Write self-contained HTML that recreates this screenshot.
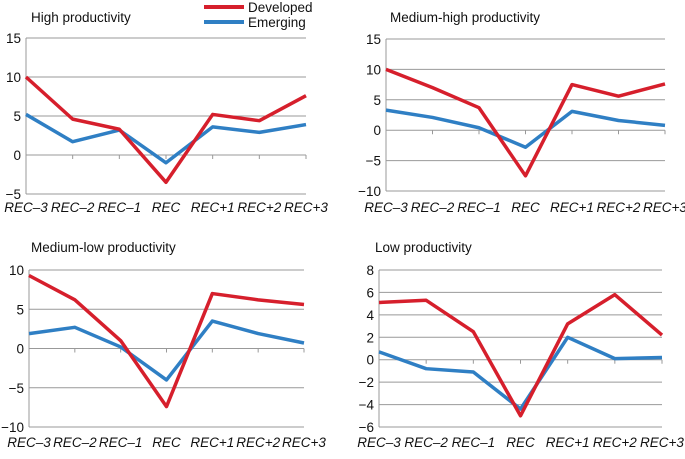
<!DOCTYPE html>
<html><head><meta charset="utf-8"><style>
body{margin:0;background:#fff;width:685px;height:454px;overflow:hidden}
svg{font-family:"Liberation Sans",sans-serif}
</style></head><body>
<svg id="c" width="685" height="454"></svg>
<script>
const categories=["REC\u20133","REC\u20132","REC\u20131","REC","REC+1","REC+2","REC+3"];
const titles=["High productivity","Medium-high productivity","Medium-low productivity","Low productivity"];
const devHigh=[10,4.6,3.3,-3.5,5.2,4.4,7.6];
const emHigh=[5.2,1.7,3.2,-1.0,3.6,2.9,3.9];
const devMedHigh=[10,7,3.7,-7.5,7.5,5.6,7.6];
const emMedHigh=[3.3,2.1,0.4,-2.8,3.1,1.6,0.8];
const devMedLow=[9.3,6.2,1.0,-7.4,7.0,6.2,5.6];
const emMedLow=[1.9,2.7,0.2,-4.0,3.5,1.9,0.7];
const devLow=[5.1,5.3,2.5,-5.0,3.2,5.8,2.2];
const emLow=[0.7,-0.8,-1.1,-4.4,2.0,0.1,0.2];
const ticksHigh=[-5,0,5,10,15];
const ticksMedHigh=[-10,-5,0,5,10,15];
const ticksMedLow=[-10,-5,0,5,10];
const ticksLow=[-6,-4,-2,0,2,4,6,8];
const NS="http://www.w3.org/2000/svg";
const svg=document.getElementById('c');
function el(t,a,p){const e=document.createElementNS(NS,t);for(const k in a)e.setAttribute(k,a[k]);(p||svg).appendChild(e);return e;}
const panels=[
 {x0:26,x1:306,top:38,bot:194,tx:31,ty:22,lab:212,dev:devHigh,em:emHigh,ticks:ticksHigh,name:'high'},
 {x0:386,x1:665,top:39,bot:191,tx:390,ty:22,lab:212,dev:devMedHigh,em:emMedHigh,ticks:ticksMedHigh,name:'medium-high'},
 {x0:29,x1:304,top:270,bot:427,tx:31,ty:252,lab:447,dev:devMedLow,em:emMedLow,ticks:ticksMedLow,name:'medium-low'},
 {x0:379,x1:662,top:270,bot:427,tx:375,ty:252,lab:447,dev:devLow,em:emLow,ticks:ticksLow,name:'low'}
];
panels.forEach((p,i)=>{
 const g=el('g',{});
 
 
 const mn=p.ticks[0],mx=p.ticks[p.ticks.length-1];
 const y=v=>p.bot-(v-mn)/(mx-mn)*(p.bot-p.top);
 const x=j=>p.x0+j*(p.x1-p.x0)/(categories.length-1);
 const t=el('text',{x:p.tx,y:p.ty,'font-size':13.5,fill:'#111'},g);t.textContent=titles[i];
 
 p.ticks.forEach(v=>{
  el('line',{x1:p.x0,x2:p.x1,y1:y(v),y2:y(v),stroke:'#999','stroke-width':1},g);
  const l=el('text',{x:p.x0-5,y:y(v)+5,'font-size':13.5,'text-anchor':'end',fill:'#111'},g);
  l.textContent=String(v).replace('-','\u2212');
  
 });
 el('line',{x1:p.x0,x2:p.x0,y1:p.top,y2:p.bot,stroke:'#999'},g);
 categories.forEach((c,j)=>{
  el('line',{x1:x(j),x2:x(j),y1:y(0),y2:y(0)+4,stroke:'#999'},g);
  const l=el('text',{x:x(j),y:p.lab,'font-size':13.5,'font-style':'italic','text-anchor':'middle',fill:'#111'},g);
  l.textContent=c;
 });
 [[p.em,'#2f7fc4','emerging'],[p.dev,'#d61f2c','developed']].forEach(([d,col,n])=>{
  const pl=el('polyline',{points:d.map((v,j)=>x(j)+','+y(v)).join(' '),fill:'none',stroke:col,'stroke-width':3.5,'stroke-linejoin':'round'},g);
  
 });
});
const lg=el('g',{});

[['Developed','#d61f2c',7],['Emerging','#2f7fc4',22]].forEach(([n,c,yy])=>{
 el('line',{x1:204,x2:244,y1:yy,y2:yy,stroke:c,'stroke-width':4},lg);
 const t=el('text',{x:248,y:yy+5,'font-size':13.5,fill:'#111'},lg);t.textContent=n;
 
});
</script>
</body></html>
